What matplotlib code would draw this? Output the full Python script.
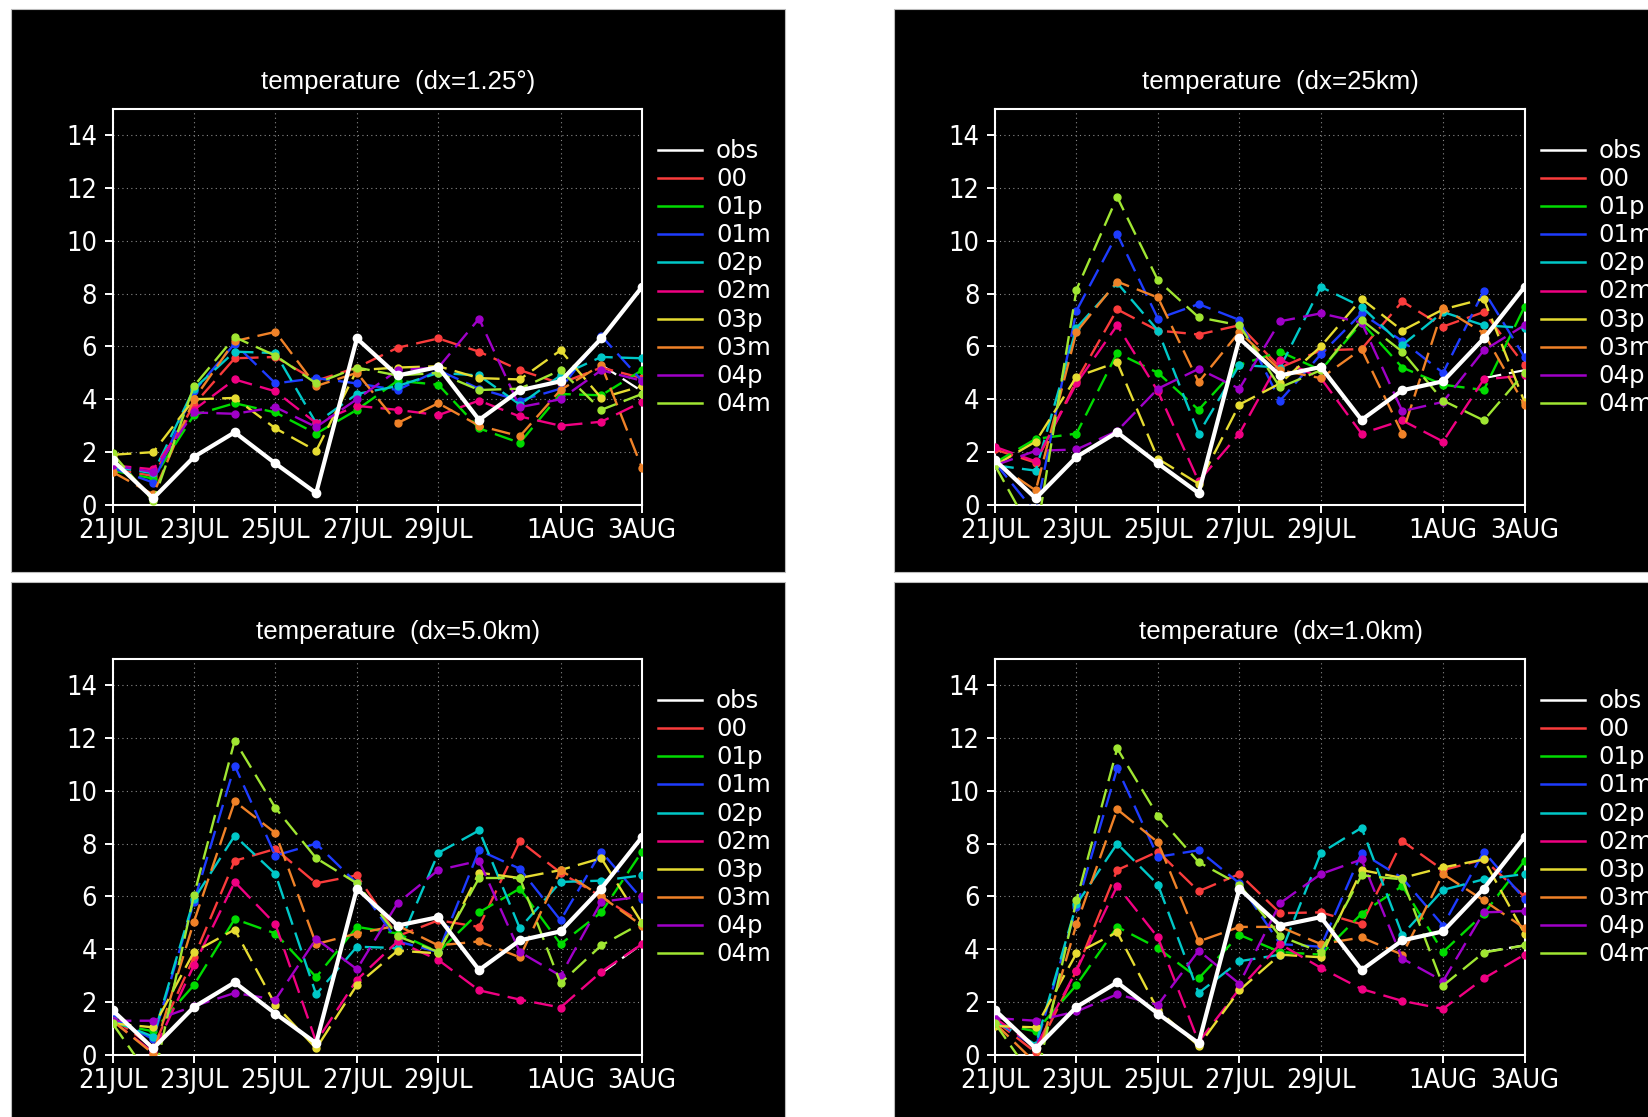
import numpy as np
import matplotlib
matplotlib.use('Agg')
import matplotlib.pyplot as plt
from matplotlib.patches import Rectangle
from matplotlib.lines import Line2D
from matplotlib import font_manager

nan = np.nan

# ---------------- data ----------------
days = list(range(14))          # 21JUL .. 3AUG, daily
tick_days = [0, 2, 4, 6, 8, 11, 13]
tick_labels = ['21JUL', '23JUL', '25JUL', '27JUL', '29JUL', '1AUG', '3AUG']
yticks = [0, 2, 4, 6, 8, 10, 12, 14]

members = ['00', '01p', '01m', '02p', '02m', '03p', '03m', '04p', '04m']
member_colors = ['#fa3c3c', '#00dc00', '#1e3cff', '#00c8c8', '#f00082',
                 '#e6dc32', '#f08228', '#a000c8', '#a0e632']

obs = [1.7, 0.25, 1.82, 2.75, 1.57, 0.45, 6.3, 4.9, 5.22, 3.22, 4.34, 4.68, 6.3, 8.25]

# dx = 1.25 deg
dx125_00  = [1.35, 1.1, 3.8, 5.55, 5.6, 4.7, 5.2, 5.95, 6.3, 5.8, 5.1, 4.6, 5.2, 4.8]
dx125_01p = [1.3, 1.0, 3.4, 3.85, 3.5, 2.7, 3.6, 4.7, 4.55, 2.9, 2.35, 4.2, 4.15, 5.1]
dx125_01m = [1.4, 0.85, 4.3, 6.1, 4.6, 4.8, 4.6, 4.35, 5.1, 4.4, 3.95, 4.4, 6.4, 4.7]
dx125_02p = [1.45, 1.2, 4.4, 5.8, 5.75, 3.1, 4.2, 4.5, 5.0, 4.9, 3.8, 4.9, 5.6, 5.55]
dx125_02m = [1.5, 1.35, 3.6, 4.75, 4.3, 3.1, 3.75, 3.6, 3.4, 3.95, 3.35, 3.0, 3.15, 3.9]
dx125_03p = [1.9, 2.0, 4.0, 4.05, 2.9, 2.05, 5.1, 5.2, 5.25, 4.8, 4.75, 5.85, 4.05, 4.5]
dx125_03m = [1.25, 0.4, 4.0, 6.2, 6.55, 4.5, 5.0, 3.1, 3.85, 3.0, 2.6, 4.35, 5.3, 1.4]
dx125_04p = [1.5, 1.25, 3.5, 3.45, 3.7, 2.95, 4.0, 5.1, 5.2, 7.05, 3.7, 4.0, 5.1, 4.7]
dx125_04m = [1.95, 0.15, 4.5, 6.35, 5.65, 4.6, 5.2, 4.9, 5.0, 4.35, 4.4, 5.1, 3.6, 4.2]
dx125_ext = [nan, nan, nan, nan, nan, nan, nan, nan, nan, nan, nan, nan, 5.3, 4.3]

# dx = 25 km
dx25_00  = [2.1, 1.6, 4.7, 7.4, 6.6, 6.45, 6.8, 5.2, 5.85, 5.9, 7.7, 6.75, 7.3, 5.3]
dx25_01p = [1.6, 2.5, 2.7, 5.75, 5.0, 3.6, 5.3, 5.8, 5.1, 6.9, 5.2, 4.55, 4.35, 7.5]
dx25_01m = [1.6, -0.3, 7.35, 10.25, 7.05, 7.6, 7.0, 3.95, 5.7, 7.25, 6.2, 5.0, 8.1, 5.6]
dx25_02p = [1.5, 1.3, 6.7, 8.4, 6.6, 2.7, 5.3, 5.2, 8.25, 7.5, 6.05, 7.3, 6.8, 6.7]
dx25_02m = [2.2, 1.65, 4.6, 6.8, 4.3, 0.9, 2.7, 5.5, 4.8, 2.7, 3.2, 2.4, 4.75, 4.9]
dx25_03p = [1.5, 2.4, 4.85, 5.4, 1.75, 0.8, 3.8, 4.6, 6.0, 7.8, 6.6, 7.4, 7.8, 3.9]
dx25_03m = [1.6, 0.55, 6.55, 8.45, 7.85, 4.65, 6.55, 5.1, 4.8, 5.9, 2.7, 7.45, 6.5, 3.8]
dx25_04p = [1.5, 2.05, 2.1, 2.8, 4.4, 5.15, 4.4, 6.95, 7.25, 6.9, 3.55, 3.9, 5.85, 6.8]
dx25_04m = [1.5, -1.3, 8.15, 11.65, 8.5, 7.1, 6.8, 4.45, 5.1, 7.0, 5.8, 3.95, 3.2, 5.0]
dx25_ext = [nan, nan, nan, nan, nan, nan, nan, nan, nan, nan, nan, nan, 4.8, 5.1]

# dx = 5.0 km
dx5_00  = [1.4, 0.3, 3.7, 7.35, 7.8, 6.5, 6.8, 4.5, 5.1, 4.85, 8.1, 6.9, 6.0, 5.0]
dx5_01p = [1.2, 0.9, 2.65, 5.15, 4.6, 2.95, 4.85, 4.6, 3.9, 5.4, 6.3, 4.2, 5.4, 7.7]
dx5_01m = [1.4, 0.6, 5.8, 10.95, 7.55, 8.0, 6.5, 4.3, 3.9, 7.75, 7.05, 5.1, 7.7, 5.9]
dx5_02p = [1.3, 0.7, 5.9, 8.3, 6.85, 2.3, 4.1, 4.05, 7.65, 8.5, 4.8, 6.55, 6.6, 6.8]
dx5_02m = [1.3, 0.1, 3.4, 6.55, 4.95, 0.5, 2.85, 4.3, 3.6, 2.45, 2.1, 1.8, 3.15, 4.2]
dx5_03p = [1.2, 1.05, 3.9, 4.75, 1.9, 0.25, 2.65, 3.95, 3.85, 6.9, 6.7, 7.0, 7.45, 5.0]
dx5_03m = [1.3, 0.05, 5.05, 9.6, 8.4, 4.2, 4.6, 4.9, 4.15, 4.3, 3.7, 7.0, 6.0, 4.9]
dx5_04p = [1.3, 1.3, 1.85, 2.35, 2.1, 4.4, 3.25, 5.75, 7.0, 7.35, 3.9, 3.0, 5.8, 6.0]
dx5_04m = [1.2, -1.0, 6.05, 11.9, 9.35, 7.45, 6.5, 4.5, 3.9, 6.7, 6.7, 2.72, 4.15, 5.0]
dx5_ext = [nan, nan, nan, nan, nan, nan, nan, nan, nan, nan, nan, nan, 3.1, 4.2]

# dx = 1.0 km
dx1_00  = [1.3, 0.1, 3.2, 7.0, 7.7, 6.2, 6.85, 5.37, 5.4, 4.95, 8.1, 7.0, 7.4, 6.0]
dx1_01p = [1.2, 0.9, 2.65, 4.85, 4.05, 2.9, 4.55, 3.9, 3.8, 5.35, 6.4, 3.9, 5.35, 7.35]
dx1_01m = [1.3, 0.3, 5.6, 10.85, 7.5, 7.75, 6.5, 4.2, 4.1, 7.65, 6.7, 4.9, 7.7, 5.9]
dx1_02p = [1.3, 0.4, 5.7, 8.0, 6.45, 2.35, 3.55, 3.8, 7.65, 8.6, 4.55, 6.25, 6.65, 6.85]
dx1_02m = [1.4, 0.3, 3.2, 6.4, 4.45, 0.5, 2.5, 4.2, 3.3, 2.5, 2.05, 1.75, 2.9, 3.8]
dx1_03p = [1.1, 1.05, 3.85, 4.65, 1.7, 0.35, 2.45, 3.8, 3.7, 7.0, 6.7, 7.1, 7.4, 4.6]
dx1_03m = [1.2, -0.3, 4.95, 9.3, 8.05, 4.3, 4.85, 4.85, 4.2, 4.45, 3.8, 6.85, 5.85, 4.8]
dx1_04p = [1.4, 1.3, 1.65, 2.3, 1.9, 3.95, 2.7, 5.75, 6.85, 7.4, 3.65, 2.8, 5.4, 5.45]
dx1_04m = [1.2, -1.0, 5.85, 11.6, 9.05, 7.3, 6.45, 4.5, 3.9, 6.8, 6.65, 2.63, 3.88, 4.15]
dx1_ext = [nan, nan, nan, nan, nan, nan, nan, nan, nan, nan, nan, nan, 3.9, 4.15]

titles = ['temperature  (dx=1.25°)', 'temperature  (dx=25km)',
          'temperature  (dx=5.0km)', 'temperature  (dx=1.0km)']
panel_series = [
    [dx125_00, dx125_01p, dx125_01m, dx125_02p, dx125_02m, dx125_03p, dx125_03m, dx125_04p, dx125_04m],
    [dx25_00, dx25_01p, dx25_01m, dx25_02p, dx25_02m, dx25_03p, dx25_03m, dx25_04p, dx25_04m],
    [dx5_00, dx5_01p, dx5_01m, dx5_02p, dx5_02m, dx5_03p, dx5_03m, dx5_04p, dx5_04m],
    [dx1_00, dx1_01p, dx1_01m, dx1_02p, dx1_02m, dx1_03p, dx1_03m, dx1_04p, dx1_04m],
]
panel_ext = [dx125_ext, dx25_ext, dx5_ext, dx1_ext]

# ---------------- fonts ----------------
def font_file(**kw):
    try:
        return font_manager.findfont(font_manager.FontProperties(**kw),
                                     fallback_to_default=False)
    except Exception:
        return ''

tick_font = None
p = font_file(family='Liberation Sans Narrow')
if 'Narrow' in p:
    tick_font = dict(family='Liberation Sans Narrow', size=21.0)
if tick_font is None:
    p = font_file(family='DejaVu Sans', stretch='condensed')
    if 'Condensed' in p:
        tick_font = dict(family='DejaVu Sans', stretch='condensed', size=19.5)
if tick_font is None:
    tick_font = dict(family='Liberation Sans', size=18.5)
title_font = dict(family='Liberation Sans', size=18.6)
legend_font = dict(family='DejaVu Sans', size=17.6)

# ---------------- layout (pixels) ----------------
W, H = 1648, 1117
fig = plt.figure(figsize=(W / 100, H / 100), dpi=100)
fig.patch.set_facecolor('white')

def fx(px):
    return px / W

def fy(py):
    return 1 - py / H

col_ax_left = [112.5, 995.0]
col_bg_left = [10.7, 893.5]
row_ax_top = [108.5, 658.6]
row_bg_top = [9.0, 582.0]
ax_w, ax_h = 529.5, 396.5
bg_w, bg_h = 774.5, 563.0

dash = (0, (8, 3.5))

for k in range(4):
    r, c = divmod(k, 2)
    # panel background
    fig.patches.append(Rectangle((fx(col_bg_left[c]), fy(row_bg_top[r] + bg_h)),
                                 bg_w / W, bg_h / H, transform=fig.transFigure,
                                 facecolor='black', edgecolor='#bbbbbb', lw=0.8, zorder=0))
    ax = fig.add_axes([fx(col_ax_left[c]), fy(row_ax_top[r] + ax_h), ax_w / W, ax_h / H])
    ax.set_facecolor('black')
    ax.set_zorder(2)
    ax.set_xlim(0, 13)
    ax.set_ylim(0, 15)
    ax.set_xticks(tick_days)
    ax.set_xticklabels(tick_labels, fontdict=tick_font, color='white')
    ax.set_yticks(yticks)
    ax.set_yticklabels([str(v) for v in yticks], fontdict=tick_font, color='white')
    ax.tick_params(axis='both', direction='out', length=6, width=1.4, colors='white')
    ax.tick_params(axis='y', pad=5)
    ax.tick_params(axis='x', pad=3)
    for s in ax.spines.values():
        s.set_color('white')
        s.set_linewidth(1.5)
    ax.grid(True, color='#8a8a8a', linestyle=(0, (1, 3)), linewidth=0.8)
    ax.set_axisbelow(True)

    # extra white dashed segment
    ax.plot(days, panel_ext[k], color='white', lw=1.6, linestyle=dash, zorder=2)
    # ensemble members
    for ser, col in zip(panel_series[k], member_colors):
        ax.plot(days, ser, color=col, lw=1.7, linestyle=dash,
                marker='o', markersize=5, markerfacecolor=col, markeredgecolor=col, zorder=3)
    # observation
    ax.plot(days, obs, color='white', lw=3.0, marker='o', markersize=6,
            markerfacecolor='white', markeredgecolor='white', zorder=5)

    # title centred on the panel background
    fig.text(fx(col_bg_left[c] + bg_w / 2), fy(row_ax_top[r] - 27), titles[k],
             ha='center', va='center', color='white', fontdict=title_font)

    # legend
    ax_right = col_ax_left[c] + ax_w
    labels = ['obs'] + members
    cols = ['white'] + member_colors
    for i, (lab, col) in enumerate(zip(labels, cols)):
        yy = row_ax_top[r] + 41.5 + i * 28.1
        fig.lines.append(Line2D([fx(ax_right + 16), fx(ax_right + 60)], [fy(yy), fy(yy)],
                                transform=fig.transFigure, color=col, lw=1.8, zorder=3))
        fig.text(fx(ax_right + 74), fy(yy + 1), lab, ha='left', va='center',
                 color='white', fontdict=legend_font, zorder=3)

fig.savefig('out.png', dpi=100, facecolor='white')
